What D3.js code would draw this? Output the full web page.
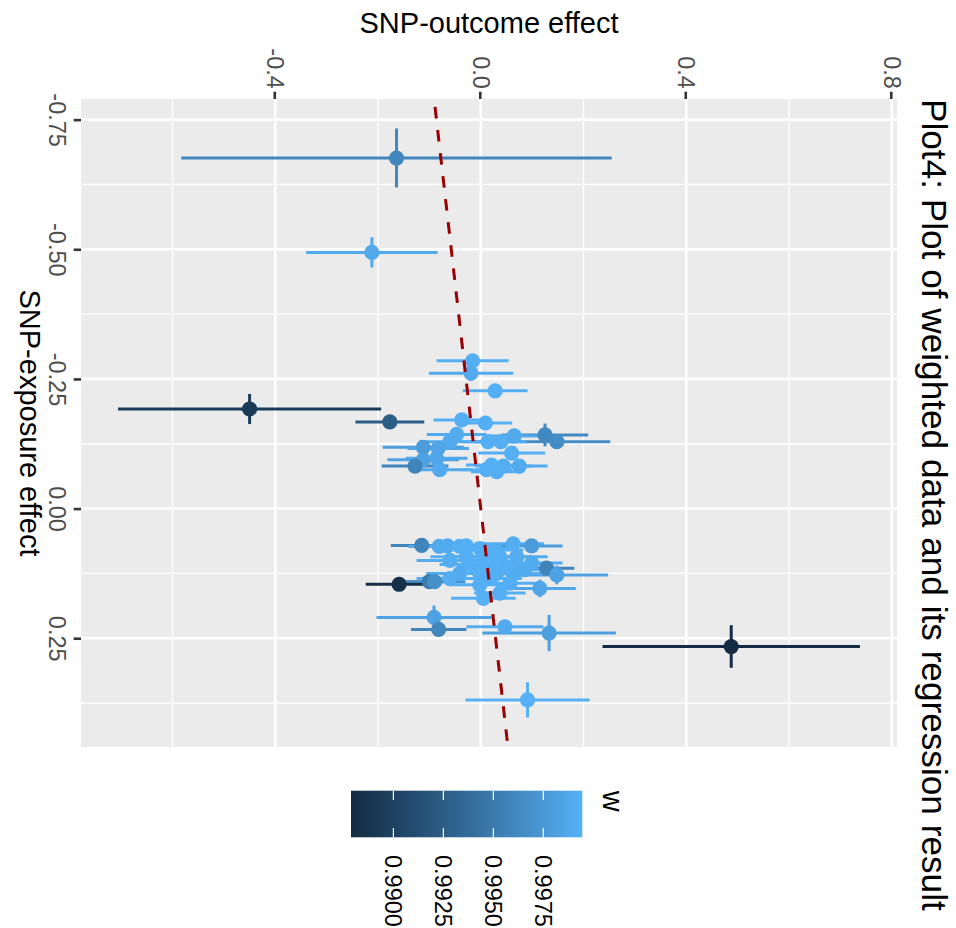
<!DOCTYPE html>
<html>
<head>
<meta charset="utf-8">
<script src="https://cdn.jsdelivr.net/npm/d3@7"></script>
<style>
  body { margin: 0; background: #fff; }
  svg { display: block; }
  text { font-family: "Liberation Sans", Arial, Helvetica, sans-serif; }
</style>
</head>
<body>
<svg id="chart" width="956" height="928"></svg>
<script>
// one entry per SNP
const bx = [
  -0.676, -0.494,
  -0.285, -0.261, -0.227, -0.192, -0.167, -0.171, -0.165, -0.143, -0.142, -0.140,
  -0.129, -0.129, -0.129, -0.129, -0.118, -0.116, -0.107, -0.094, -0.097, -0.082,
  -0.075, -0.084, -0.082, -0.082, -0.071, -0.075,
  0.071, 0.073, 0.072, 0.073, 0.072, 0.077, 0.080, 0.068, 0.072, 0.093, 0.093,
  0.093, 0.093, 0.105, 0.115, 0.128, 0.125, 0.125, 0.125, 0.125, 0.141, 0.141,
  0.146, 0.147, 0.144, 0.154, 0.163, 0.173, 0.210, 0.233, 0.228, 0.240,
  0.100, 0.108, 0.110, 0.112, 0.118, 0.135, 0.135,
  0.266, 0.369
]
const by = [
  -0.164, -0.212,
  -0.016, -0.019, 0.028, -0.450, -0.177, -0.037, 0.009, -0.047, 0.125, 0.065,
  0.148, 0.014, 0.039, -0.060, -0.112, -0.083, 0.060, -0.112, -0.086, -0.128,
  -0.080, 0.021, 0.044, 0.075, 0.031, 0.011,
  -0.115, -0.081, -0.065, -0.041, -0.028, -0.002, 0.028, 0.063, 0.099, -0.028, 0.005,
  0.037, 0.070, 0.099, 0.128, 0.148, -0.041, -0.002, 0.031, 0.063, -0.100, -0.090,
  -0.159, -0.002, 0.057, 0.115, 0.037, 0.005, -0.091, -0.082, 0.047, 0.133,
  -0.060, -0.020, 0.020, 0.050, 0.085, -0.060, 0.020,
  0.4875, 0.091
]
// half widths of the error bars
const bxErr = [
  0.057, 0.029,
  0.008, 0.015, 0.008, 0.029, 0.008, 0.008, 0.008, 0.008, 0.022, 0.008,
  0.008, 0.008, 0.008, 0.008, 0.008, 0.008, 0.008, 0.008, 0.008, 0.008,
  0.008, 0.008, 0.008, 0.008, 0.008, 0.008,
  0.008, 0.008, 0.008, 0.008, 0.008, 0.008, 0.008, 0.008, 0.008, 0.008, 0.008,
  0.008, 0.008, 0.008, 0.008, 0.018, 0.008, 0.008, 0.008, 0.008, 0.008, 0.008,
  0.008, 0.008, 0.008, 0.017, 0.008, 0.008, 0.023, 0.008, 0.008, 0.035,
  0.008, 0.008, 0.008, 0.008, 0.008, 0.008, 0.008,
  0.041, 0.034
]
const byErr = [
  0.419, 0.128,
  0.070, 0.082, 0.063, 0.256, 0.067, 0.055, 0.052, 0.058, 0.084, 0.050,
  0.104, 0.050, 0.050, 0.060, 0.079, 0.060, 0.065, 0.070, 0.060, 0.065,
  0.060, 0.050, 0.055, 0.055, 0.050, 0.050,
  0.060, 0.060, 0.055, 0.055, 0.060, 0.060, 0.055, 0.060, 0.060, 0.070, 0.065,
  0.060, 0.060, 0.060, 0.054, 0.100, 0.065, 0.060, 0.060, 0.060, 0.060, 0.060,
  0.065, 0.060, 0.060, 0.070, 0.050, 0.063, 0.112, 0.054, 0.075, 0.130,
  0.065, 0.060, 0.060, 0.060, 0.065, 0.065, 0.060,
  0.2505, 0.121
]
const w = [
  0.9960, 0.9988,
  0.9993, 0.9990, 0.9992, 0.9893, 0.9925, 0.9993, 0.9992, 0.9990, 0.9962, 0.9988,
  0.9965, 0.9993, 0.9992, 0.9990, 0.9978, 0.9985, 0.9992, 0.9982, 0.9986, 0.9958,
  0.9988, 0.9993, 0.9991, 0.9990, 0.9992, 0.9993,
  0.9958, 0.9988, 0.9990, 0.9992, 0.9993, 0.9993, 0.9992, 0.9991, 0.9978, 0.9992, 0.9993,
  0.9993, 0.9991, 0.9990, 0.9958, 0.9982, 0.9990, 0.9993, 0.9992, 0.9991, 0.9950, 0.9968,
  0.9884, 0.9993, 0.9992, 0.9985, 0.9993, 0.9994, 0.9982, 0.9960, 0.9990, 0.9980,
  0.9991, 0.9993, 0.9993, 0.9992, 0.9990, 0.9991, 0.9993,
  0.98788, 0.99945
]

// regression result (line through the origin)
const slope = 0.115
const intercept = 0

const exposureTicks = [-0.75, -0.5, -0.25, 0, 0.25]
const exposureLabels = ["-0.75", "-0.50", "-0.25", "0.00", "0.25"]
const exposureMinor = [-0.625, -0.375, -0.125, 0.125, 0.375]
const outcomeTicks = [-0.4, 0, 0.4, 0.8]
const outcomeLabels = ["-0.4", "0.0", "0.4", "0.8"]
const outcomeMinor = [-0.6, -0.2, 0.2, 0.6]
const wTicks = [0.99, 0.9925, 0.995, 0.9975]
const wLabels = ["0.9900", "0.9925", "0.9950", "0.9975"]

const data = bx.map((d, i) => ({ bx: d, by: by[i], bxErr: bxErr[i], byErr: byErr[i], w: w[i] }))

// the whole ggplot is turned a quarter turn clockwise, so lay it out unrotated (928 wide, 956 high)
const svg = d3.select("#chart")
const g = svg.append("g").attr("transform", "translate(956,0) rotate(90)")

const panel = { left: 99, right: 747, top: 59, bottom: 875 }

const expand = (lo, hi) => {
  const pad = (hi - lo) * 0.05
  return [lo - pad, hi + pad]
}

const x = d3.scaleLinear()
  .domain(expand(d3.min(data, d => d.bx - d.bxErr), d3.max(data, d => d.bx + d.bxErr)))
  .range([panel.left, panel.right])

const y = d3.scaleLinear()
  .domain(expand(d3.min(data, d => d.by - d.byErr), d3.max(data, d => d.by + d.byErr)))
  .range([panel.bottom, panel.top])

const color = d3.scaleLinear()
  .domain(d3.extent(w))
  .range(["#132B43", "#56B1F7"])
  .interpolate(d3.interpolateLab)

g.append("defs").append("clipPath")
  .attr("id", "panel-clip")
  .append("rect")
  .attr("x", panel.left)
  .attr("y", panel.top)
  .attr("width", panel.right - panel.left)
  .attr("height", panel.bottom - panel.top)

g.append("rect")
  .attr("x", panel.left)
  .attr("y", panel.top)
  .attr("width", panel.right - panel.left)
  .attr("height", panel.bottom - panel.top)
  .attr("fill", "#EBEBEB")

const grid = g.append("g").attr("stroke", "white")

grid.selectAll(".vminor")
  .data(exposureMinor)
  .join("line")
  .attr("x1", d => x(d)).attr("x2", d => x(d))
  .attr("y1", panel.top).attr("y2", panel.bottom)
  .attr("stroke-width", 1.3)

grid.selectAll(".hminor")
  .data(outcomeMinor)
  .join("line")
  .attr("y1", d => y(d)).attr("y2", d => y(d))
  .attr("x1", panel.left).attr("x2", panel.right)
  .attr("stroke-width", 1.3)

grid.selectAll(".vmajor")
  .data(exposureTicks)
  .join("line")
  .attr("x1", d => x(d)).attr("x2", d => x(d))
  .attr("y1", panel.top).attr("y2", panel.bottom)
  .attr("stroke-width", 2.6)

grid.selectAll(".hmajor")
  .data(outcomeTicks)
  .join("line")
  .attr("y1", d => y(d)).attr("y2", d => y(d))
  .attr("x1", panel.left).attr("x2", panel.right)
  .attr("stroke-width", 2.6)

const marks = g.append("g").attr("clip-path", "url(#panel-clip)")

// outcome error bars
marks.append("g")
  .selectAll("line")
  .data(data)
  .join("line")
  .attr("x1", d => x(d.bx)).attr("x2", d => x(d.bx))
  .attr("y1", d => y(d.by - d.byErr)).attr("y2", d => y(d.by + d.byErr))
  .attr("stroke", d => color(d.w))
  .attr("stroke-width", 3)

// exposure error bars
marks.append("g")
  .selectAll("line")
  .data(data)
  .join("line")
  .attr("x1", d => x(d.bx - d.bxErr)).attr("x2", d => x(d.bx + d.bxErr))
  .attr("y1", d => y(d.by)).attr("y2", d => y(d.by))
  .attr("stroke", d => color(d.w))
  .attr("stroke-width", 3)

marks.append("g")
  .selectAll("circle")
  .data(data)
  .join("circle")
  .attr("cx", d => x(d.bx))
  .attr("cy", d => y(d.by))
  .attr("r", 7.6)
  .attr("fill", d => color(d.w))

const [e0, e1] = x.domain()
marks.append("line")
  .attr("x1", x(e0)).attr("y1", y(intercept + slope * e0))
  .attr("x2", x(e1)).attr("y2", y(intercept + slope * e1))
  .attr("stroke", "#990000")
  .attr("stroke-width", 3)
  .attr("stroke-dasharray", "11.6 11.6")
  .attr("stroke-dashoffset", 15.2)

// axes
const styleAxis = sel => {
  sel.select(".domain").remove()
  sel.selectAll(".tick line").attr("stroke", "#333333").attr("stroke-width", 2.6)
  sel.selectAll(".tick text")
    .attr("fill", "#4D4D4D")
    .attr("font-size", 23.5)
    .attr("font-family", "'Liberation Sans', Arial, Helvetica, sans-serif")
}

g.append("g")
  .attr("transform", `translate(${panel.left},0)`)
  .call(d3.axisLeft(y)
    .tickValues(outcomeTicks)
    .tickFormat((d, i) => outcomeLabels[i])
    .tickSize(7.3)
    .tickPadding(2.9))
  .call(styleAxis)

g.append("g")
  .attr("transform", `translate(0,${panel.bottom})`)
  .call(d3.axisBottom(x)
    .tickValues(exposureTicks)
    .tickFormat((d, i) => exposureLabels[i])
    .tickSize(7.3)
    .tickPadding(8))
  .call(styleAxis)

g.append("text")
  .attr("x", (panel.left + panel.right) / 2)
  .attr("y", 936)
  .attr("text-anchor", "middle")
  .attr("font-size", 29)
  .attr("fill", "black")
  .text("SNP-exposure effect")

g.append("text")
  .attr("transform", `translate(33,${(panel.top + panel.bottom) / 2}) rotate(-90)`)
  .attr("text-anchor", "middle")
  .attr("font-size", 29)
  .attr("fill", "black")
  .text("SNP-outcome effect")

g.append("text")
  .attr("x", panel.left)
  .attr("y", 34)
  .attr("font-size", 35.2)
  .attr("fill", "black")
  .text("Plot4: Plot of weighted data and its regression result")

// colour bar legend
const bar = { left: 790.7, right: 837.3, top: 373.7, bottom: 605 }
const barScale = d3.scaleLinear()
  .domain(d3.extent(w))
  .range([bar.bottom, bar.top])

const grad = g.select("defs").append("linearGradient")
  .attr("id", "wgrad")
  .attr("x1", 0).attr("y1", 1)
  .attr("x2", 0).attr("y2", 0)

grad.selectAll("stop")
  .data(d3.range(0, 1.0001, 0.05))
  .join("stop")
  .attr("offset", d => d)
  .attr("stop-color", d => color(color.domain()[0] + d * (color.domain()[1] - color.domain()[0])))

const legend = g.append("g")

legend.append("rect")
  .attr("x", bar.left)
  .attr("y", barScale(d3.max(w)))
  .attr("width", bar.right - bar.left)
  .attr("height", barScale(d3.min(w)) - barScale(d3.max(w)))
  .attr("fill", "url(#wgrad)")

const tickLen = (bar.right - bar.left) / 5
legend.selectAll(".tl")
  .data(wTicks)
  .join("line")
  .attr("x1", bar.left).attr("x2", bar.left + tickLen)
  .attr("y1", d => barScale(d)).attr("y2", d => barScale(d))
  .attr("stroke", "white")
  .attr("stroke-width", 1.2)

legend.selectAll(".tr")
  .data(wTicks)
  .join("line")
  .attr("x1", bar.right - tickLen).attr("x2", bar.right)
  .attr("y1", d => barScale(d)).attr("y2", d => barScale(d))
  .attr("stroke", "white")
  .attr("stroke-width", 1.2)

legend.selectAll("text.lab")
  .data(wTicks)
  .join("text")
  .attr("class", "lab")
  .attr("x", 855)
  .attr("y", d => barScale(d))
  .attr("dy", "0.35em")
  .attr("font-size", 23.5)
  .attr("fill", "black")
  .text((d, i) => wLabels[i])

legend.append("text")
  .attr("x", bar.left)
  .attr("y", 353)
  .attr("font-size", 29)
  .attr("fill", "black")
  .text("w")
</script>
</body>
</html>
